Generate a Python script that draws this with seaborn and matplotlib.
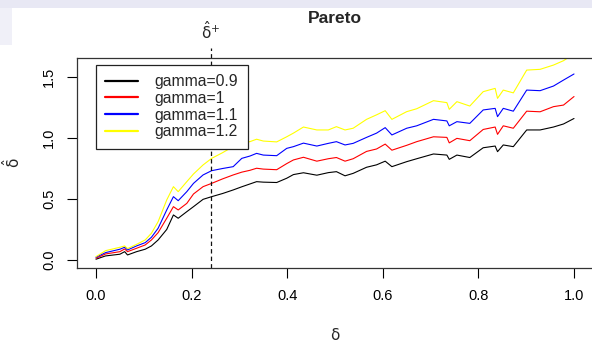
import numpy as np
import pandas as pd
import matplotlib
matplotlib.use("Agg")
import matplotlib.pyplot as plt
import seaborn as sns
from matplotlib.patches import Rectangle
import matplotlib.transforms as mtransforms

delta = [0.0, 0.02, 0.05, 0.06, 0.066, 0.085, 0.103, 0.116, 0.13, 0.148, 0.162, 0.172,
         0.19, 0.204, 0.224, 0.242, 0.265, 0.287, 0.305, 0.322, 0.336, 0.35, 0.378, 0.399,
         0.413, 0.434, 0.462, 0.486, 0.503, 0.521, 0.538, 0.566, 0.587, 0.605, 0.619, 0.65,
         0.671, 0.706, 0.734, 0.739, 0.755, 0.782, 0.81, 0.835, 0.84, 0.852, 0.873, 0.901,
         0.929, 0.957, 0.978, 1.0]

g09 = [0.006, 0.033, 0.047, 0.068, 0.041, 0.068, 0.088, 0.115, 0.164, 0.25, 0.369, 0.342,
       0.396, 0.437, 0.497, 0.519, 0.545, 0.574, 0.60, 0.623, 0.642, 0.638, 0.635, 0.67,
       0.70, 0.715, 0.695, 0.716, 0.724, 0.69, 0.71, 0.76, 0.78, 0.81, 0.765, 0.806,
       0.83, 0.869, 0.86, 0.825, 0.86, 0.84, 0.92, 0.934, 0.888, 0.943, 0.929, 1.066,
       1.066, 1.09, 1.115, 1.16]

g10 = [0.014, 0.049, 0.068, 0.09, 0.068, 0.096, 0.123, 0.164, 0.224, 0.342, 0.437, 0.41,
       0.464, 0.541, 0.601, 0.628, 0.665, 0.697, 0.72, 0.735, 0.752, 0.745, 0.74, 0.79,
       0.82, 0.842, 0.81, 0.83, 0.84, 0.81, 0.83, 0.89, 0.91, 0.95, 0.90, 0.94,
       0.97, 1.01, 1.005, 0.96, 0.997, 0.978, 1.07, 1.09, 1.03, 1.10, 1.08, 1.22,
       1.215, 1.257, 1.27, 1.34]

g11 = [0.022, 0.06, 0.088, 0.104, 0.082, 0.115, 0.142, 0.186, 0.26, 0.41, 0.519, 0.486,
       0.56, 0.628, 0.697, 0.732, 0.75, 0.765, 0.833, 0.852, 0.874, 0.86, 0.855, 0.915,
       0.929, 0.958, 0.934, 0.956, 0.97, 0.943, 0.956, 1.005, 1.04, 1.085, 1.025, 1.08,
       1.10, 1.153, 1.14, 1.10, 1.134, 1.12, 1.23, 1.243, 1.175, 1.243, 1.22, 1.393,
       1.388, 1.426, 1.475, 1.525]

g12 = [0.027, 0.076, 0.104, 0.115, 0.093, 0.128, 0.164, 0.219, 0.314, 0.492, 0.601, 0.56,
       0.642, 0.705, 0.779, 0.833, 0.88, 0.93, 0.96, 0.97, 0.99, 0.975, 0.968, 1.01,
       1.04, 1.09, 1.066, 1.066, 1.093, 1.066, 1.08, 1.153, 1.19, 1.224, 1.153, 1.216,
       1.24, 1.306, 1.29, 1.235, 1.298, 1.262, 1.38, 1.407, 1.325, 1.393, 1.37, 1.557,
       1.563, 1.598, 1.634, 1.69]

labels = ["gamma=0.9", "gamma=1", "gamma=1.1", "gamma=1.2"]
colors = ["black", "red", "blue", "yellow"]
delta_plus = 0.2406

sns.set_theme(style="white")
plt.rcParams['font.family'] = ['Liberation Sans', 'DejaVu Sans']
plt.rcParams['mathtext.fontset'] = 'custom'
plt.rcParams['mathtext.rm'] = 'DejaVu Sans'
plt.rcParams['mathtext.it'] = 'DejaVu Sans'

frames = []
for lab, vals in zip(labels, [g09, g10, g11, g12]):
    frames.append(pd.DataFrame({"delta": delta, "val": vals, "series": lab}))
df = pd.concat(frames, ignore_index=True)

fig = plt.figure(figsize=(5.92, 3.48), dpi=100)
fig.patches.append(Rectangle((0, 1 - 8 / 348), 1, 8 / 348, transform=fig.transFigure,
                             facecolor="#e8e8f4", edgecolor="none", zorder=-1))
fig.patches.append(Rectangle((0, 1 - 45 / 348), 12 / 592, 37 / 348, transform=fig.transFigure,
                             facecolor="#f0f0f8", edgecolor="none", zorder=-1))
ax = fig.add_axes([77 / 592, 80 / 348, 516 / 592, 210 / 348])

sns.lineplot(data=df, x="delta", y="val", hue="series", palette=dict(zip(labels, colors)),
             hue_order=labels, linewidth=0.8, ax=ax, legend=False, estimator=None, sort=False)

ax.set_xlim(-0.0397, 1.0397)
ax.set_ylim(-0.066, 1.656)
ax.set_xticks([0, 0.2, 0.4, 0.6, 0.8, 1.0])
ax.set_xticklabels(["0.0", "0.2", "0.4", "0.6", "0.8", "1.0"])
ax.set_yticks([0, 0.5, 1.0, 1.5])
ax.set_yticklabels(["0.0", "0.5", "1.0", "1.5"], rotation=90, va="center")
ax.tick_params(axis="both", direction="out", length=7, width=0.8, colors="black",
               labelsize=10.5, pad=8, left=True, bottom=True)
for sp in ax.spines.values():
    sp.set_color("#333333")
    sp.set_linewidth(0.9)

ax.set_xlabel("δ", fontsize=11, labelpad=18, family="DejaVu Sans")
ax.set_ylabel(r"$\hat{\mathrm{\delta}}$", fontsize=11, labelpad=14)
ax.set_title("Pareto", fontsize=12.5, fontweight="bold", pad=25, x=0.5)

ax.axvline(delta_plus, ymin=0, ymax=1.048, color="#111111", linestyle=(0, (3.5, 2.5)),
           linewidth=0.9, clip_on=False)
trans = mtransforms.blended_transform_factory(ax.transData, ax.transAxes)
ax.text(delta_plus, 1.13, r"$\hat{\mathrm{\delta}}^{+}$", transform=trans, ha="center",
        va="center", fontsize=11)

handles = [plt.Line2D([], [], color=c, linewidth=1.6) for c in colors]
leg = ax.legend(handles, labels, loc="upper left", bbox_to_anchor=(19 / 516, 1 - 7 / 210),
                frameon=True, fancybox=False, framealpha=1, edgecolor="#222222",
                fontsize=11.3, handlelength=2.1, handletextpad=1.05, labelspacing=0.1,
                borderpad=0.6, borderaxespad=0)
leg.get_frame().set_linewidth(0.9)

fig.savefig("out.png", dpi=100)
